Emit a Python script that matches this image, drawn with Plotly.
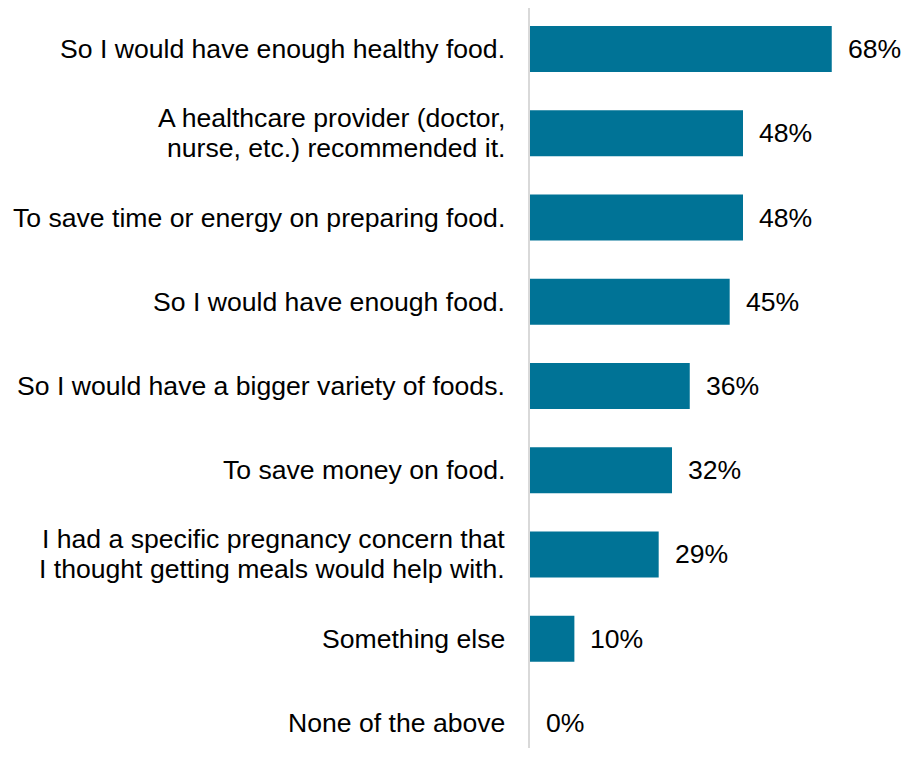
import plotly.graph_objects as go

categories = [
    "So I would have enough healthy food.",
    "A healthcare provider (doctor,<br>nurse, etc.) recommended it.",
    "To save time or energy on preparing food.",
    "So I would have enough food.",
    "So I would have a bigger variety of foods.",
    "To save money on food.",
    "I had a specific pregnancy concern that<br>I thought getting meals would help with.",
    "Something else",
    "None of the above",
]
values = [0.68, 0.48, 0.48, 0.45, 0.36, 0.32, 0.29, 0.10, 0.00]
labels = ["68%", "48%", "48%", "45%", "36%", "32%", "29%", "10%", "0%"]

FONT = "Liberation Sans, Arial, sans-serif"
FS = 26.6
LINE_GAP = 30

fig = go.Figure(go.Bar(
    x=values, y=categories, orientation="h",
    marker=dict(color="#007396", line=dict(width=0)),
    width=0.545, hoverinfo="skip",
))

for c, v, t in zip(categories, values, labels):
    fig.add_annotation(x=v, y=c, text=t, showarrow=False, xanchor="left",
                       yanchor="middle", xshift=14,
                       font=dict(family=FONT, size=FS, color="#000000"))
    lines = c.split("<br>")
    n = len(lines)
    for i, ln in enumerate(lines):
        fig.add_annotation(x=0, y=c, text=ln, showarrow=False, xanchor="right",
                           yanchor="middle", xshift=-23,
                           yshift=((n - 1) / 2 - i) * LINE_GAP,
                           font=dict(family=FONT, size=FS, color="#000000"))

fig.update_layout(
    width=903, height=761,
    margin=dict(l=530, r=18, t=8, b=13),
    paper_bgcolor="white", plot_bgcolor="white",
    showlegend=False,
    font=dict(family=FONT, size=FS, color="#000000"),
    xaxis=dict(range=[0, 0.8], visible=False, showgrid=False, zeroline=False),
    yaxis=dict(categoryorder="array", categoryarray=categories,
               range=[8.297, -0.487], showgrid=False, zeroline=False,
               showline=True, linecolor="#D9D9D9", linewidth=2,
               ticks="", showticklabels=False),
)

fig.write_html("out.html")
